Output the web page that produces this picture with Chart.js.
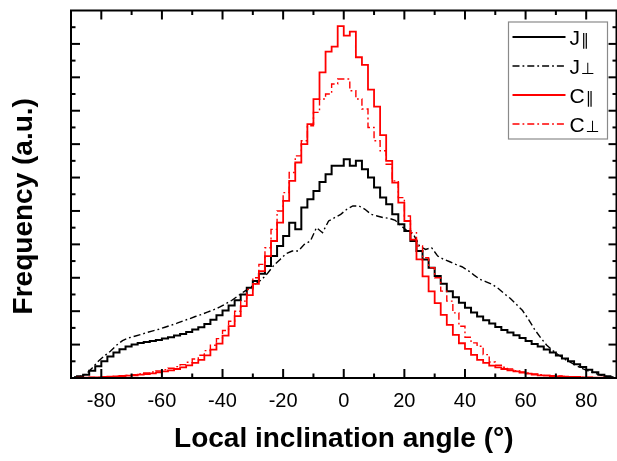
<!DOCTYPE html>
<html><head><meta charset="utf-8">
<script src="https://cdn.jsdelivr.net/npm/chart.js@4.4.0/dist/chart.umd.min.js"></script>
<style>html,body{margin:0;padding:0;background:#fff}#wrap{width:617px;height:461px}</style>
</head><body><div id="wrap"><canvas id="c" width="617" height="461"></canvas></div>
<script>
const angles = [-89,-87,-85,-83,-81,-79,-77,-75,-73,-71,-69,-67,-65,-63,-61,-59,-57,-55,-53,-51,-49,-47,-45,-43,-41,-39,-37,-35,-33,-31,-29,-27,-25,-23,-21,-19,-17,-15,-13,-11,-9,-7,-5,-3,-1,1,3,5,7,9,11,13,15,17,19,21,23,25,27,29,31,33,35,37,39,41,43,45,47,49,51,53,55,57,59,61,63,65,67,69,71,73,75,77,79,81,83,85,87,89];
const jPar = [0.02,0.05,0.1,0.22,0.35,0.5,0.64,0.76,0.86,0.94,
  1.0,1.05,1.08,1.11,1.14,1.18,1.22,1.27,1.32,1.38,
  1.45,1.52,1.62,1.74,1.88,2.02,2.17,2.33,2.5,2.7,
  2.9,3.12,3.35,3.65,3.95,4.25,4.65,4.45,5.1,5.35,
  5.6,5.87,6.1,6.35,6.35,
  6.55,6.35,6.5,6.25,6.0,5.7,5.4,5.2,4.9,4.6,
  4.4,4.1,3.8,3.55,3.3,3.05,2.82,2.6,2.42,2.25,
  2.1,1.96,1.84,1.73,1.63,1.53,1.44,1.36,1.28,1.2,
  1.11,1.02,0.94,0.85,0.76,0.67,0.58,0.5,0.41,0.33,
  0.25,0.17,0.1,0.05,0.02];
const jPerp = [0.02,0.05,0.12,0.3,0.5,0.66,0.8,0.98,1.12,1.2,
  1.25,1.3,1.36,1.41,1.46,1.52,1.58,1.64,1.71,1.77,
  1.84,1.9,1.97,2.04,2.12,2.22,2.32,2.45,2.58,2.7,
  2.82,2.95,3.15,3.38,3.55,3.72,3.8,3.8,4.0,4.1,
  4.5,4.35,4.7,4.8,4.9,
  5.05,5.15,5.15,5.05,4.9,4.85,4.8,4.78,4.72,4.55,
  4.4,4.3,3.95,3.85,3.9,3.65,3.55,3.48,3.4,3.33,
  3.22,3.08,2.95,2.88,2.8,2.68,2.52,2.38,2.2,2.02,
  1.75,1.45,1.2,0.98,0.82,0.68,0.56,0.46,0.36,0.27,
  0.2,0.14,0.08,0.04,0.02];
const cPar = [0.0,0.01,0.01,0.02,0.02,0.03,0.04,0.05,0.06,0.07,
  0.08,0.1,0.12,0.14,0.17,0.2,0.23,0.27,0.32,0.38,
  0.45,0.54,0.68,0.85,1.03,1.27,1.55,1.85,2.15,2.48,
  2.82,3.2,3.65,4.1,4.65,5.3,5.9,6.45,7.0,7.6,
  8.35,9.15,9.77,9.92,10.53,
  10.25,10.37,9.6,9.37,8.63,8.12,7.27,6.5,5.85,5.25,
  4.7,4.14,3.55,3.04,2.59,2.24,1.89,1.59,1.29,1.04,
  0.87,0.69,0.54,0.45,0.37,0.32,0.27,0.23,0.2,0.16,
  0.13,0.1,0.08,0.07,0.06,0.05,0.04,0.03,0.03,0.02,
  0.02,0.01,0.01,0.0,0.0];
const cPerp = [0.0,0.0,0.01,0.02,0.02,0.03,0.04,0.05,0.07,0.08,
  0.1,0.12,0.15,0.18,0.21,0.25,0.29,0.34,0.4,0.47,
  0.57,0.68,0.82,0.98,1.18,1.42,1.7,2.0,2.3,2.65,
  3.0,3.4,3.9,4.45,5.0,5.55,6.15,6.65,7.1,7.55,
  7.95,8.35,8.5,8.8,8.95,
  8.95,8.6,8.35,8.05,7.5,7.1,6.8,6.4,5.9,5.4,
  4.85,4.35,3.95,3.6,3.3,3.0,2.6,2.3,1.95,1.55,
  1.22,1.05,0.95,0.7,0.48,0.38,0.32,0.27,0.22,0.18,
  0.15,0.12,0.1,0.08,0.07,0.06,0.05,0.04,0.03,0.02,
  0.02,0.01,0.01,0.0,0.0];
const seriesLabels = ['J∥','J⊥','C∥','C⊥'];
const xTickValues = [-80,-60,-40,-20,0,20,40,60,80];
const xMinorTicks = [-70,-50,-30,-10,10,30,50,70];
const yMajorTicks = [1,2,3,4,5,6,7,8,9,10];
const yMinorTicks = [0.5,1.5,2.5,3.5,4.5,5.5,6.5,7.5,8.5,9.5,10.5];
const yTitle = 'Frequency (a.u.)';
const xTitle = 'Local inclination angle (°)';

const FONT = "'Liberation Sans', Arial, sans-serif";
const pts = arr => angles.map((a,i)=>({x:a, y:arr[i]}));
const DASHDOT = [7,3,1.8,3];

const framePlugin = {
  id:'frame',
  afterDatasetsDraw(chart){
    const {ctx, chartArea:a, scales:{x, y}} = chart;
    ctx.save();
    ctx.strokeStyle = '#000';
    ctx.lineWidth = 2;
    ctx.setLineDash([]);
    ctx.strokeRect(a.left, a.top, a.right - a.left, a.bottom - a.top);
    const tick = (x1,y1,x2,y2)=>{ctx.beginPath();ctx.moveTo(x1,y1);ctx.lineTo(x2,y2);ctx.stroke();};
    xTickValues.forEach(v=>{const p=x.getPixelForValue(v); tick(p,a.bottom,p,a.bottom-9); tick(p,a.top,p,a.top+9);});
    xMinorTicks.forEach(v=>{const p=x.getPixelForValue(v); tick(p,a.bottom,p,a.bottom-4.5); tick(p,a.top,p,a.top+4.5);});
    yMajorTicks.forEach(v=>{const p=y.getPixelForValue(v); tick(a.left,p,a.left+9,p); tick(a.right,p,a.right-8,p);});
    yMinorTicks.forEach(v=>{const p=y.getPixelForValue(v); tick(a.left,p,a.left+4.5,p); tick(a.right,p,a.right-4,p);});
    // y axis title (placed slightly below the axis centre, as in the original)
    ctx.fillStyle = '#000';
    ctx.font = 'bold 28px ' + FONT;
    ctx.textAlign = 'center';
    ctx.textBaseline = 'middle';
    ctx.translate(24, (a.top + a.bottom)/2 + 12);
    ctx.rotate(-Math.PI/2);
    ctx.fillText(yTitle, 0, 0);
    ctx.restore();
  }
};

const legendPlugin = {
  id:'boxLegend',
  afterDraw(chart){
    const {ctx, chartArea:a} = chart;
    const bw = 99, bh = 117;
    const bx = a.right - 9 - bw, by = a.top + 11.5;
    ctx.save();
    ctx.fillStyle = '#fff';
    ctx.fillRect(bx, by, bw, bh);
    ctx.strokeStyle = '#8a8a8a';
    ctx.lineWidth = 1.2;
    ctx.strokeRect(bx, by, bw, bh);
    chart.data.datasets.forEach((ds,i)=>{
      const cy = by + 15 + i*29;
      ctx.strokeStyle = ds.borderColor;
      ctx.lineWidth = ds.borderWidth;
      ctx.setLineDash(ds.borderDash || []);
      ctx.beginPath(); ctx.moveTo(bx+4, cy); ctx.lineTo(bx+57, cy); ctx.stroke();
      ctx.setLineDash([]);
      ctx.fillStyle = '#000';
      ctx.textBaseline = 'alphabetic';
      ctx.textAlign = 'left';
      const main = ds.label.charAt(0), sym = ds.label.slice(1);
      ctx.font = '21px ' + FONT;
      ctx.fillText(main, bx+61, cy+8);
      const w = ctx.measureText(main).width;
      ctx.font = "16px 'DejaVu Sans', sans-serif";
      ctx.fillText(sym, bx+61+w+1, cy+8);
    });
    ctx.restore();
  }
};

new Chart(document.getElementById('c'), {
  type:'line',
  data:{datasets:[
    {label:seriesLabels[0], data:pts(jPar), borderColor:'#000000', borderWidth:2, stepped:'middle', order:3},
    {label:seriesLabels[1], data:pts(jPerp), borderColor:'#000000', borderWidth:1.4, borderDash:DASHDOT, stepped:false, order:2},
    {label:seriesLabels[2], data:pts(cPar), borderColor:'#ff0000', borderWidth:1.8, stepped:'middle', order:1},
    {label:seriesLabels[3], data:pts(cPerp), borderColor:'#ff0000', borderWidth:1.4, borderDash:DASHDOT, stepped:'middle', order:0}
  ]},
  options:{
    responsive:false, animation:false, devicePixelRatio:1,
    layout:{padding:{top:10.5, right:0.5, left:0, bottom:0}},
    elements:{point:{radius:0, hoverRadius:0}, line:{tension:0, fill:false}},
    plugins:{legend:{display:false}, tooltip:{enabled:false}},
    scales:{
      x:{type:'linear', min:-90, max:90,
        afterBuildTicks:s=>{s.ticks = xTickValues.map(v=>({value:v}));},
        grid:{display:false, drawTicks:false}, border:{display:false},
        ticks:{font:{family:FONT, size:20}, color:'#000', padding:11, maxRotation:0, autoSkip:false, callback:v=>String(v)},
        title:{display:true, text:xTitle, color:'#000', font:{family:FONT, size:28, weight:'bold'}, padding:{top:0, bottom:5}},
        afterFit:s=>{s.height = 83;}
      },
      y:{type:'linear', min:0, max:11,
        ticks:{display:false}, grid:{display:false, drawTicks:false}, border:{display:false},
        title:{display:false},
        afterFit:s=>{s.width = 71;}
      }
    }
  },
  plugins:[framePlugin, legendPlugin]
});
</script></body></html>
